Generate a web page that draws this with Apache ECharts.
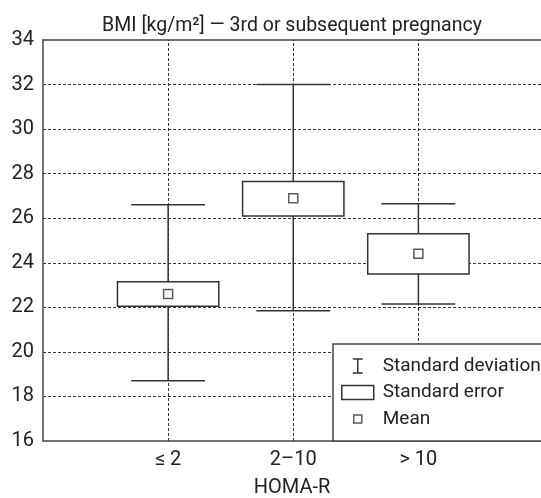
<!DOCTYPE html>
<html>
<head>
<meta charset="utf-8">
<script src="https://cdn.jsdelivr.net/npm/echarts@6/dist/echarts.min.js"></script>
<style>
html,body{margin:0;padding:0;background:#fff;}
#chart{width:541px;height:498px;}
</style>
</head>
<body>
<div id="chart"></div>
<script>
// ---- data ----
var titleText = 'BMI [kg/m\u00B2] \u2014 3rd or subsequent pregnancy';
var xAxisName = 'HOMA-R';
var categories = ['\u2264 2', '2\u201310', '> 10'];
var sdLow  = [18.7, 21.85, 22.15];
var sdHigh = [26.6, 32.0, 26.65];
var seLow  = [22.05, 26.1, 23.5];
var seHigh = [23.15, 27.65, 25.3];
var means  = [22.6, 26.9, 24.4];
var yTicks = [16, 18, 20, 22, 24, 26, 28, 30, 32, 34];
var legendNames = ['Standard deviation', 'Standard error', 'Mean'];

var FONT = "'Roboto', 'Liberation Sans', sans-serif";
var INK = '#333';
var TXT = '#222';

var sdData = categories.map(function (c, i) { return [i + 1, sdLow[i], sdHigh[i]]; });
var seData = categories.map(function (c, i) { return [i + 1, seLow[i], seHigh[i]]; });
var meanData = categories.map(function (c, i) { return [i + 1, means[i]]; });

var chart = echarts.init(document.getElementById('chart'), null, {renderer: 'canvas'});
var xMax = 3.98;

var option = {
  backgroundColor: '#fff',
  animation: false,
  grid: {left: 43, right: 0, top: 40, bottom: 57, containLabel: false, outerBoundsMode: 'none'},
  xAxis: [{
    type: 'value', min: 0, max: xMax, interval: 1, position: 'bottom',
    axisLine: {show: true, lineStyle: {color: '#444', width: 1.5}},
    axisTick: {show: false},
    splitLine: {show: false},
    axisLabel: {
      margin: 9, fontSize: 20, fontFamily: FONT, color: TXT,
      showMinLabel: true, showMaxLabel: true,
      formatter: function (v) { var k = Math.round(v); return (Math.abs(v - k) < 1e-6 && k >= 1 && k <= categories.length) ? categories[k - 1] : ''; }
    },
    name: xAxisName, nameLocation: 'middle', nameGap: 37,
    nameTextStyle: {fontSize: 20, fontFamily: FONT, color: TXT}
  }, {
    type: 'value', min: 0, max: xMax, position: 'top',
    axisLine: {show: true, onZero: false, lineStyle: {color: '#444', width: 1.5}},
    axisTick: {show: false}, axisLabel: {show: false}, splitLine: {show: false},
    name: titleText, nameLocation: 'middle', nameGap: 4,
    nameTextStyle: {fontSize: 19.5, fontFamily: FONT, color: TXT}
  }],
  yAxis: {
    type: 'value', min: yTicks[0], max: yTicks[yTicks.length - 1], interval: 2,
    axisLine: {show: true, lineStyle: {color: '#444', width: 1.5}},
    axisTick: {show: false},
    axisLabel: {margin: 9, fontSize: 20, fontFamily: FONT, color: TXT},
    splitLine: {show: true, showMinLine: false, showMaxLine: false,
      lineStyle: {color: INK, width: 1, type: [3, 2]}}
  },
  legend: {
    orient: 'vertical', left: 333, top: 344,
    padding: [11, 12, 11, 8],
    itemWidth: 36, itemHeight: 14, itemGap: 4.5,
    backgroundColor: '#fff', borderColor: '#444', borderWidth: 1.5, borderRadius: 0,
    textStyle: {fontSize: 19, fontFamily: FONT, color: TXT, lineHeight: 22},
    selectedMode: false,
    data: [
      {name: legendNames[0], icon: 'path://M0,0 M36,14 M11,0 L21,0 M16,0 L16,14 M11,14 L21,14',
        itemStyle: {color: 'rgba(0,0,0,0)', borderColor: INK, borderWidth: 1.5}},
      {name: legendNames[1], icon: 'path://M0,0 L32,0 L32,14 L0,14 Z M36,14',
        itemStyle: {color: '#fff', borderColor: INK, borderWidth: 1.5}},
      {name: legendNames[2], icon: 'path://M0,0 M36,14 M12,3 L20,3 L20,11 L12,11 Z',
        itemStyle: {color: '#fff', borderColor: INK, borderWidth: 1.5}}
    ]
  },
  series: [{
    name: legendNames[0], type: 'custom', z: 2,
    encode: {x: 0, y: [1, 2]},
    data: sdData,
    renderItem: function (params, api) {
      var x = api.value(0);
      var pLo = api.coord([x, api.value(1)]);
      var pHi = api.coord([x, api.value(2)]);
      var half = api.size([0.59, 0])[0] / 2;
      var st = {stroke: INK, lineWidth: 1.5, fill: null};
      return {type: 'group', children: [
        {type: 'line', shape: {x1: pLo[0], y1: pLo[1], x2: pHi[0], y2: pHi[1]}, style: st},
        {type: 'line', shape: {x1: pHi[0] - half, y1: pHi[1], x2: pHi[0] + half, y2: pHi[1]}, style: st},
        {type: 'line', shape: {x1: pLo[0] - half, y1: pLo[1], x2: pLo[0] + half, y2: pLo[1]}, style: st}
      ]};
    },
    markLine: {
      silent: true, z: 1, symbol: ['none', 'none'], label: {show: false},
      lineStyle: {color: INK, width: 1, type: [3, 2]},
      emphasis: {disabled: true},
      data: categories.map(function (c, i) { return {xAxis: i + 1}; })
    }
  }, {
    name: legendNames[1], type: 'custom', z: 3,
    encode: {x: 0, y: [1, 2]},
    data: seData,
    renderItem: function (params, api) {
      var x = api.value(0);
      var pLo = api.coord([x, api.value(1)]);
      var pHi = api.coord([x, api.value(2)]);
      var w = api.size([0.81, 0])[0];
      return {type: 'rect',
        shape: {x: pLo[0] - w / 2, y: pHi[1], width: w, height: pLo[1] - pHi[1]},
        style: {fill: '#fff', stroke: INK, lineWidth: 1.5}};
    }
  }, {
    name: legendNames[2], type: 'scatter', z: 4,
    symbol: 'rect', symbolSize: 9,
    itemStyle: {color: '#fff', borderColor: INK, borderWidth: 1.5},
    data: meanData
  }]
};
chart.setOption(option);
</script>
</body>
</html>
